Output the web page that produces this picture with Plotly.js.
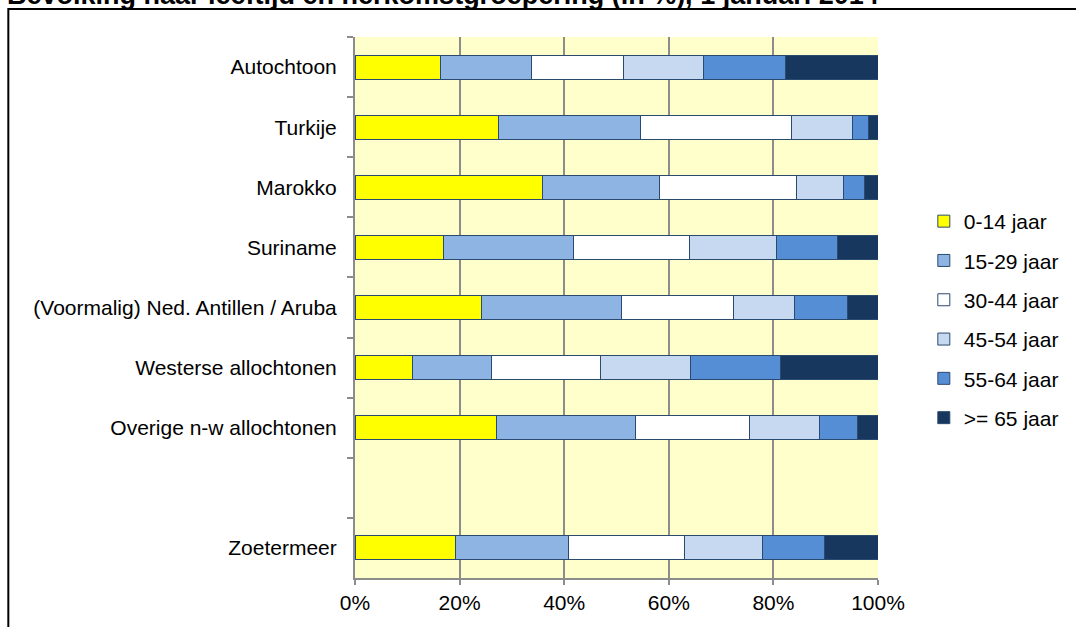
<!DOCTYPE html>
<html>
<head>
<meta charset="utf-8">
<script src="https://cdn.plot.ly/plotly-3.0.1.min.js"></script>
<style>html,body{margin:0;padding:0;background:#fff;}#chart{width:1076px;height:627px;}</style>
</head>
<body>
<div id="chart"></div>
<script>
var categories = ["Autochtoon", "Turkije", "Marokko", "Suriname", "(Voormalig) Ned. Antillen / Aruba", "Westerse allochtonen", "Overige n-w allochtonen", " ", "Zoetermeer"];
var seriesNames = ["0-14 jaar", "15-29 jaar", "30-44 jaar", "45-54 jaar", "55-64 jaar", ">= 65 jaar"];
var age0_14  = [16.4, 27.5, 35.9, 16.9, 24.1, 11.0, 27.0, null, 19.3];
var age15_29 = [17.3, 27.1, 22.4, 24.8, 26.8, 15.1, 26.6, null, 21.6];
var age30_44 = [17.7, 28.8, 26.2, 22.2, 21.5, 20.9, 21.9, null, 22.1];
var age45_54 = [15.2, 11.7,  8.9, 16.6, 11.7, 17.1, 13.3, null, 15.0];
var age55_64 = [15.7,  3.0,  4.1, 11.8, 10.0, 17.2,  7.3, null, 11.8];
var age65plus= [17.7,  1.9,  2.5,  7.7,  5.9, 18.7,  3.9, null, 10.2];
var xTickVals = [0, 20, 40, 60, 80, 100];
var xTickText = ["0%", "20%", "40%", "60%", "80%", "100%"];
var titleText = "Bevolking naar leeftijd en herkomstgroepering (in %), 1 januari 2014";

var seriesValues = [age0_14, age15_29, age30_44, age45_54, age55_64, age65plus];
var colors = ["#FFFF00", "#8EB4E3", "#FFFFFF", "#C6D9F1", "#558ED5", "#17375E"];
var FONT = "Liberation Sans, Arial, sans-serif";

var traces = seriesValues.map(function (vals, i) {
  return {
    type: "bar",
    orientation: "h",
    name: seriesNames[i],
    x: vals,
    y: categories,
    legendgroup: "g" + i,
    marker: { color: colors[i], line: { color: "#2B4A6F", width: 1 } },
    hoverinfo: "x+y+name"
  };
});

// pixel -> paper conversion for plot area 355..880 x 37..578
var L = 355, R = 880, T = 37, B = 578;
function px(x) { return (x - L) / (R - L); }
function py(y) { return (B - y) / (B - T); }

var layout = {
  width: 1076,
  height: 627,
  margin: { l: L, r: 1076 - R, t: T, b: 627 - B },
  paper_bgcolor: "#FFFFFF",
  plot_bgcolor: "#FFFFCC",
  barmode: "stack",
  bargap: 0.6,
  font: { family: FONT, size: 21, color: "#000000" },
  xaxis: {
    range: [0, 100],
    tickvals: xTickVals,
    ticktext: xTickText,
    ticks: "outside",
    ticklen: 5,
    tickwidth: 2,
    tickcolor: "#8C8C8C",
    showgrid: true,
    gridcolor: "#8C8C8C",
    gridwidth: 2,
    showline: true,
    linecolor: "#8C8C8C",
    linewidth: 2,
    zeroline: false,
    tickfont: { family: FONT, size: 21, color: "#000000" },
    fixedrange: true
  },
  yaxis: {
    type: "category",
    categoryorder: "array",
    categoryarray: categories,
    autorange: "reversed",
    ticks: "outside",
    tickson: "boundaries",
    ticklen: 6,
    tickwidth: 2,
    tickcolor: "#8C8C8C",
    showgrid: false,
    showline: true,
    linecolor: "#8C8C8C",
    linewidth: 2,
    ticklabelstandoff: 12,
    tickfont: { family: FONT, size: 21, color: "#000000" },
    fixedrange: true
  },
  legend: {
    x: px(926), xanchor: "left",
    y: py(201), yanchor: "top",
    traceorder: "grouped",
    tracegroupgap: 9,
    font: { family: FONT, size: 21, color: "#000000" },
    itemwidth: 30,
    bgcolor: "rgba(0,0,0,0)"
  },
  showlegend: true,
  annotations: [{
    text: "<b>" + titleText + "</b>",
    xref: "paper", yref: "paper",
    x: px(4), xanchor: "left",
    y: py(12), yanchor: "bottom",
    showarrow: false,
    font: { family: FONT, size: 27, color: "#000000" }
  }],
  shapes: [{
    type: "rect",
    xref: "paper", yref: "paper",
    x0: px(7), x1: px(1090),
    y0: py(640), y1: py(9),
    line: { color: "#000000", width: 2 },
    fillcolor: "rgba(0,0,0,0)",
    layer: "below"
  }]
};

Plotly.newPlot("chart", traces, layout, { displayModeBar: false, staticPlot: true });
</script>
</body>
</html>
